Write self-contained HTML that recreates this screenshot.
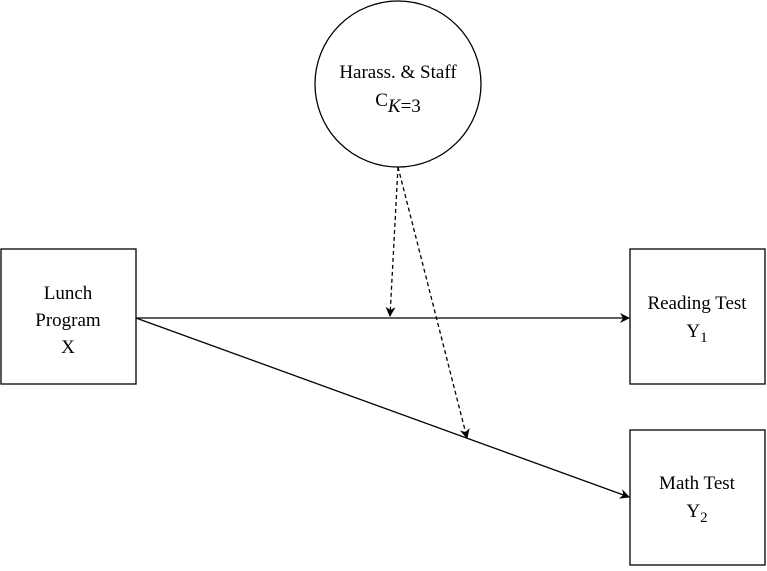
<!DOCTYPE html>
<html><head><meta charset="utf-8"><style>
html,body{margin:0;padding:0;background:#fff;}
svg text{font-family:"Liberation Serif",serif;font-size:19px;fill:#000;}
</style></head><body>
<svg width="767" height="566" viewBox="0 0 767 566" xmlns="http://www.w3.org/2000/svg">
<defs>
<marker id="a" markerWidth="10" markerHeight="10" refX="9" refY="5" orient="auto" markerUnits="userSpaceOnUse">
<path d="M0,0 L10,5 L0,10 L3,5 Z" fill="#000"/>
</marker>
</defs>
<g fill="#fff" stroke="#000" stroke-width="1.3">
<circle cx="398" cy="84" r="83"/>
<rect x="1" y="249" width="135" height="135"/>
<rect x="630" y="249" width="135" height="135"/>
<rect x="630" y="430" width="135" height="135"/>
</g>
<g stroke="#000" stroke-width="1.3" fill="none">
<line x1="136" y1="318" x2="629" y2="318" marker-end="url(#a)"/>
<line x1="136" y1="318" x2="629" y2="497" marker-end="url(#a)"/>
<line x1="398" y1="167" x2="390" y2="316" stroke-dasharray="4,3" marker-end="url(#a)"/>
<line x1="398" y1="167" x2="467" y2="438" stroke-dasharray="4,3" marker-end="url(#a)"/>
</g>
<g text-anchor="middle">
<text x="398" y="78">Harass. &amp; Staff</text>
<text x="398" y="106">C<tspan font-style="italic" dy="6">K</tspan><tspan dy="0">=3</tspan></text>
<text x="68" y="299">Lunch</text>
<text x="68" y="326">Program</text>
<text x="68" y="353">X</text>
<text x="697" y="309">Reading Test</text>
<text x="697" y="337">Y<tspan font-size="15" dy="5">1</tspan></text>
<text x="697" y="489">Math Test</text>
<text x="697" y="517">Y<tspan font-size="15" dy="5">2</tspan></text>
</g>
</svg>
</body></html>
